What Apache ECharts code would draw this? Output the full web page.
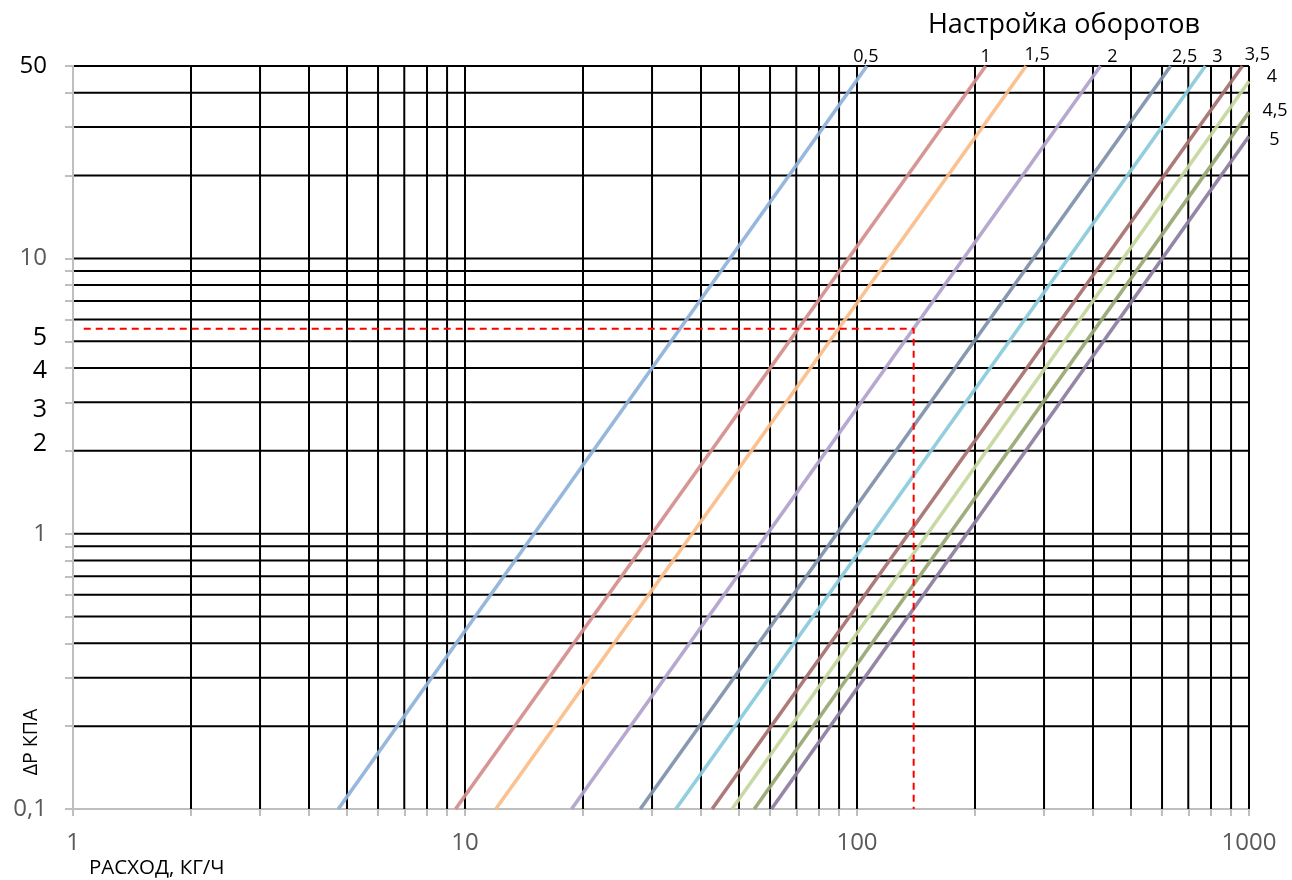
<!DOCTYPE html>
<html><head><meta charset="utf-8">
<script src="https://cdn.jsdelivr.net/npm/echarts@6/dist/echarts.min.js"></script>
<style>html,body{margin:0;padding:0;background:#fff}#c{width:1292px;height:880px}</style>
</head><body><div id="c"></div>
<script>
// ---- data ----
const xMin = 1, xMax = 1000, yMin = 0.1, yMax = 50;
const xTickLabels = [1, 10, 100, 1000];
const yTickLabels = [0.1, 1, 2, 3, 4, 5, 10, 50];
const xGrid = [2,3,4,5,6,7,8,9,10,20,30,40,50,60,70,80,90,100,200,300,400,500,600,700,800,900,1000];
const yGrid = [0.2,0.3,0.4,0.5,0.6,0.7,0.8,0.9,1,2,3,4,5,6,7,8,9,10,20,30,40,50];
const settingNames = ['0,5','1','1,5','2','2,5','3','3,5','4','4,5','5'];
const flowStart = [4.75, 9.46, 11.98, 18.7, 28.0, 34.5, 42.7, 48.0, 54.7, 60.5];
const dpStart   = [0.1, 0.1, 0.1, 0.1, 0.1, 0.1, 0.1, 0.1, 0.1, 0.1];
const flowEnd   = [106, 213, 270, 418, 631, 774, 962, 1000, 1000, 1000];
const dpEnd     = [50, 50, 50, 50, 50, 50, 50, 44, 34, 27.8];
const exampleFlow = [1.065, 139.5, 139.5];
const exampleDp   = [5.55, 5.55, 0.1];

// ---- styles ----
const FONT = '"Open Sans", "Noto Sans", sans-serif';
const colors = ['#8EB1DA','#D48C8B','#FBBC88','#B1A1CB','#7D90AA','#89CADB','#A56F6D','#C3D69B','#97A672','#8C7C9F'];
const labelOffsets = [[-1,-9.5],[0,-9.5],[11,-11.5],[12,-9.5],[14,-9.5],[12,-9.5],[15,-11],[23,-4],[26,-1],[25.5,4]];
const norm = v => +(+v).toPrecision(6);
const greyLabel = v => [0.1, 1, 10, 100, 1000].indexOf(norm(v)) >= 0;
const fmt = v => String(norm(v)).replace('.', ',');
// hand-placed black labels in the original sit slightly off their gridlines
const yLabelStyle = { 2: 'dn', 3: 'up3', 4: 'up4', 5: 'dn5' };
const yFmt = v => {
  const n = norm(v), s = String(n).replace('.', ',');
  return yLabelStyle[n] ? '{' + yLabelStyle[n] + '|' + s + '}' : s;
};

const chart = echarts.init(document.getElementById('c'));

const curveSeries = settingNames.map((name, i) => ({
  type: 'line',
  name: name,
  data: [[flowStart[i], dpStart[i]], [flowEnd[i], dpEnd[i]]],
  showSymbol: false,
  z: 3,
  lineStyle: { color: colors[i], width: 3.6, opacity: 0.92 },
  itemStyle: { color: colors[i] },
  endLabel: {
    show: true,
    formatter: name,
    align: 'center',
    verticalAlign: 'middle',
    offset: labelOffsets[i],
    color: '#000',
    fontFamily: FONT,
    fontSize: 18,
    distance: 0
  },
  emphasis: { disabled: true },
  silent: true
}));

const blackRich = (pt, pb) => ({ color: '#000', fontSize: 25, fontFamily: FONT, padding: [pt, 0, pb, 0] });

chart.setOption({
  animation: false,
  textStyle: { fontFamily: FONT },
  grid: { left: 73, right: 43, top: 66, bottom: 71, containLabel: false },
  xAxis: {
    type: 'log', logBase: 10, min: xMin, max: xMax,
    axisLine: { show: true, lineStyle: { color: '#BFBFBF', width: 2 } },
    axisTick: { show: true, customValues: [xMin].concat(xGrid), length: 7, lineStyle: { color: '#BFBFBF', width: 2 } },
    axisLabel: { customValues: xTickLabels, formatter: fmt, color: '#595959', fontSize: 24, margin: 22, fontFamily: FONT },
    splitLine: { show: false },
    minorTick: { show: false }, minorSplitLine: { show: false }
  },
  yAxis: {
    type: 'log', logBase: 10, min: yMin, max: yMax,
    axisLine: { show: true, lineStyle: { color: '#BFBFBF', width: 2 } },
    axisTick: { show: true, customValues: [yMin].concat(yGrid), length: 8, lineStyle: { color: '#BFBFBF', width: 2 } },
    axisLabel: {
      customValues: yTickLabels, formatter: yFmt,
      color: v => greyLabel(v) ? '#595959' : '#000',
      fontSize: 24, margin: 26, fontFamily: FONT,
      rich: {
        dn5: blackRich(0, 6),
        up4: blackRich(6, 0),
        up3: blackRich(16, 0),
        dn: blackRich(0, 14)
      }
    },
    splitLine: { show: false },
    minorTick: { show: false }, minorSplitLine: { show: false }
  },
  graphic: [
    { type: 'text', x: 1064, y: 25, z: 10, style: { text: 'Настройка оборотов', fontSize: 27, fontFamily: FONT, fill: '#000', align: 'center', verticalAlign: 'middle' } },
    { type: 'text', x: 89, y: 868, z: 10, style: { text: 'РАСХОД, КГ/Ч', fontSize: 20.5, fontFamily: FONT, fill: '#000', align: 'left', verticalAlign: 'middle' } },
    { type: 'text', x: 31, y: 742, rotation: Math.PI / 2, z: 10, style: { text: 'ΔР КПА', fontSize: 19.5, fontFamily: FONT, fill: '#000', align: 'center', verticalAlign: 'middle' } }
  ],
  series: [
    {
      type: 'custom', name: 'vgrid', z: 1, silent: true, clip: false,
      data: xGrid.map(v => [v, yMin]),
      encode: { x: 0, y: 1 },
      renderItem: (params, api) => {
        const v = api.value(0);
        const a = api.coord([v, yMax]);
        const b = api.coord([v, yMin]);
        return { type: 'line', shape: { x1: a[0], y1: a[1], x2: b[0], y2: b[1] }, style: { stroke: '#000', lineWidth: 2 } };
      }
    },
    {
      type: 'custom', name: 'hgrid', z: 1, silent: true, clip: false,
      data: yGrid.map(v => [xMin, v]),
      encode: { x: 0, y: 1 },
      renderItem: (params, api) => {
        const v = api.value(1);
        const a = api.coord([xMin, v]);
        const b = api.coord([xMax, v]);
        return { type: 'line', shape: { x1: a[0] + 1, y1: a[1], x2: b[0], y2: b[1] }, style: { stroke: '#000', lineWidth: 2 } };
      }
    },
    ...curveSeries,
    {
      type: 'line', name: 'example', z: 4, silent: true,
      data: exampleFlow.map((f, i) => [f, exampleDp[i]]),
      showSymbol: false,
      lineStyle: { color: '#FF0000', width: 2, type: [7, 5] }
    }
  ]
});
</script></body></html>
